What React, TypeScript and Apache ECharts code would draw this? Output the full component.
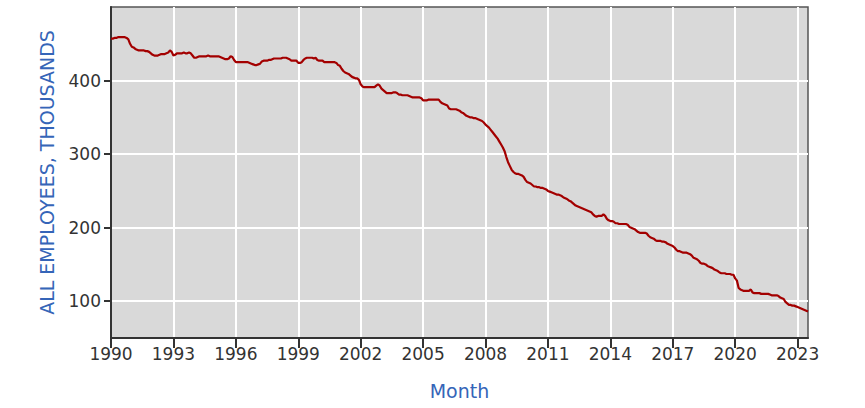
import React, { useEffect, useRef } from "react";
import * as echarts from "echarts";

const startYear = 1990;
const xTickYears = [1990, 1993, 1996, 1999, 2002, 2005, 2008, 2011, 2014, 2017, 2020, 2023];
const yTickValues = [100, 200, 300, 400];

// Monthly values (thousands), Jan 1990 onward
const y1990 = [457, 457, 458, 458, 459, 459, 459, 459, 459, 458, 456, 450];
const y1991 = [446, 445, 443, 442, 441, 441, 441, 441, 440, 440, 439, 437];
const y1992 = [435, 434, 434, 434, 435, 436, 436, 436, 437, 438, 441, 439];
const y1993 = [434, 435, 437, 437, 437, 437, 438, 437, 437, 438, 437, 434];
const y1994 = [431, 431, 432, 433, 433, 433, 433, 433, 434, 433, 433, 433];
const y1995 = [433, 433, 433, 432, 431, 430, 429, 429, 430, 433, 432, 428];
const y1996 = [425, 425, 425, 425, 425, 425, 425, 425, 424, 423, 422, 421];
const y1997 = [421, 422, 423, 426, 427, 427, 427, 428, 428, 429, 430, 430];
const y1998 = [430, 430, 430, 431, 431, 431, 430, 429, 427, 427, 427, 427];
const y1999 = [424, 424, 425, 428, 430, 431, 431, 431, 431, 430, 431, 428];
const y2000 = [427, 427, 427, 425, 425, 425, 425, 425, 425, 425, 424, 421];
const y2001 = [420, 416, 413, 411, 410, 409, 407, 405, 404, 403, 403, 401];
const y2002 = [395, 392, 391, 391, 391, 391, 391, 391, 391, 393, 395, 393];
const y2003 = [389, 387, 385, 383, 383, 383, 383, 384, 384, 383, 381, 381];
const y2004 = [380, 380, 380, 380, 379, 378, 377, 377, 377, 377, 377, 376];
const y2005 = [373, 373, 373, 374, 374, 374, 374, 374, 374, 374, 371, 369];
const y2006 = [368, 367, 366, 362, 361, 361, 361, 361, 360, 359, 357, 356];
const y2007 = [354, 352, 351, 350, 350, 349, 349, 348, 347, 346, 345, 343];
const y2008 = [340, 338, 336, 333, 330, 327, 324, 321, 317, 313, 309, 304];
const y2009 = [296, 289, 284, 279, 276, 274, 273, 273, 272, 271, 269, 265];
const y2010 = [262, 261, 260, 258, 256, 256, 255, 255, 254, 254, 253, 252];
const y2011 = [250, 249, 248, 247, 246, 245, 245, 244, 243, 241, 240, 239];
const y2012 = [237, 236, 234, 232, 230, 229, 228, 227, 226, 225, 224, 223];
const y2013 = [222, 221, 218, 216, 215, 216, 216, 216, 218, 216, 212, 210];
const y2014 = [209, 209, 208, 206, 206, 205, 205, 205, 205, 205, 204, 201];
const y2015 = [200, 199, 198, 196, 194, 193, 193, 193, 193, 192, 189, 187];
const y2016 = [186, 185, 183, 182, 182, 182, 181, 181, 180, 178, 177, 176];
const y2017 = [175, 173, 170, 168, 168, 167, 166, 166, 166, 165, 164, 162];
const y2018 = [159, 158, 157, 155, 152, 151, 151, 150, 148, 147, 146, 145];
const y2019 = [143, 142, 141, 139, 138, 138, 138, 137, 137, 137, 136, 136];
const y2020 = [131, 128, 118, 116, 115, 114, 114, 114, 114, 116, 112, 111];
const y2021 = [111, 111, 111, 110, 110, 110, 110, 110, 109, 108, 108, 108];
const y2022 = [108, 107, 105, 104, 103, 99, 97, 95, 95, 94, 94, 93];
const y2023 = [92, 91, 90, 89, 88, 87, 86];

const monthlyValues = [
  ...y1990, ...y1991, ...y1992, ...y1993, ...y1994, ...y1995, ...y1996, ...y1997,
  ...y1998, ...y1999, ...y2000, ...y2001, ...y2002, ...y2003, ...y2004, ...y2005,
  ...y2006, ...y2007, ...y2008, ...y2009, ...y2010, ...y2011, ...y2012, ...y2013,
  ...y2014, ...y2015, ...y2016, ...y2017, ...y2018, ...y2019, ...y2020, ...y2021,
  ...y2022, ...y2023,
];

export default function App() {
  const ref = useRef<HTMLDivElement>(null);
  useEffect(() => {
    if (!ref.current) return;
    const chart = echarts.init(ref.current, undefined, { renderer: "svg" });
    const data = monthlyValues.map((v, i) => [startYear + i / 12, v]);
    const xMax = startYear + (monthlyValues.length - 1) / 12;
    const font = "DejaVu Sans";
    chart.setOption({
      animation: false,
      backgroundColor: "#ffffff",
      grid: {
        left: 111,
        right: 57,
        top: 7,
        bottom: 70,
        show: true,
        backgroundColor: "#d9d9d9",
        borderColor: "#555555",
        borderWidth: 1.5,
      },
      xAxis: {
        type: "value",
        min: startYear,
        max: xMax,
        interval: 3,
        name: "Month",
        nameLocation: "middle",
        nameGap: 43,
        nameTextStyle: { color: "#3565b8", fontSize: 19, fontFamily: font },
        axisLine: { show: true, onZero: false, lineStyle: { color: "#333333", width: 2 } },
        axisTick: {
          show: true,
          length: 10,
          customValues: xTickYears,
          lineStyle: { color: "#333333", width: 2 },
        },
        axisLabel: {
          customValues: xTickYears,
          color: "#333333",
          fontSize: 17,
          fontFamily: font,
          margin: 7,
          formatter: (v: number) => (xTickYears.includes(Math.round(v * 1000) / 1000) ? String(v) : ""),
        },
        splitLine: { show: true, lineStyle: { color: "#ffffff", width: 2 } },
      },
      yAxis: {
        type: "value",
        min: 50,
        max: 500,
        name: "ALL EMPLOYEES, THOUSANDS",
        nameLocation: "middle",
        nameGap: 55,
        nameTextStyle: { color: "#3565b8", fontSize: 19, fontFamily: font },
        axisLine: { show: true, lineStyle: { color: "#333333", width: 2 } },
        axisTick: {
          show: true,
          length: 7,
          customValues: yTickValues,
          lineStyle: { color: "#333333", width: 2 },
        },
        axisLabel: {
          customValues: yTickValues,
          color: "#333333",
          fontSize: 17,
          fontFamily: font,
          margin: 10,
          formatter: (v: number) => (yTickValues.includes(v) ? String(v) : ""),
        },
        splitLine: { show: true, lineStyle: { color: "#ffffff", width: 2 } },
      },
      series: [
        {
          type: "line",
          data,
          showSymbol: false,
          symbol: "none",
          lineStyle: { color: "#a30000", width: 2.2 },
        },
      ],
    });
    return () => chart.dispose();
  }, []);
  return (
    <div
      ref={ref}
      style={{ position: "fixed", left: 0, top: 0, width: 865, height: 408 }}
    />
  );
}
